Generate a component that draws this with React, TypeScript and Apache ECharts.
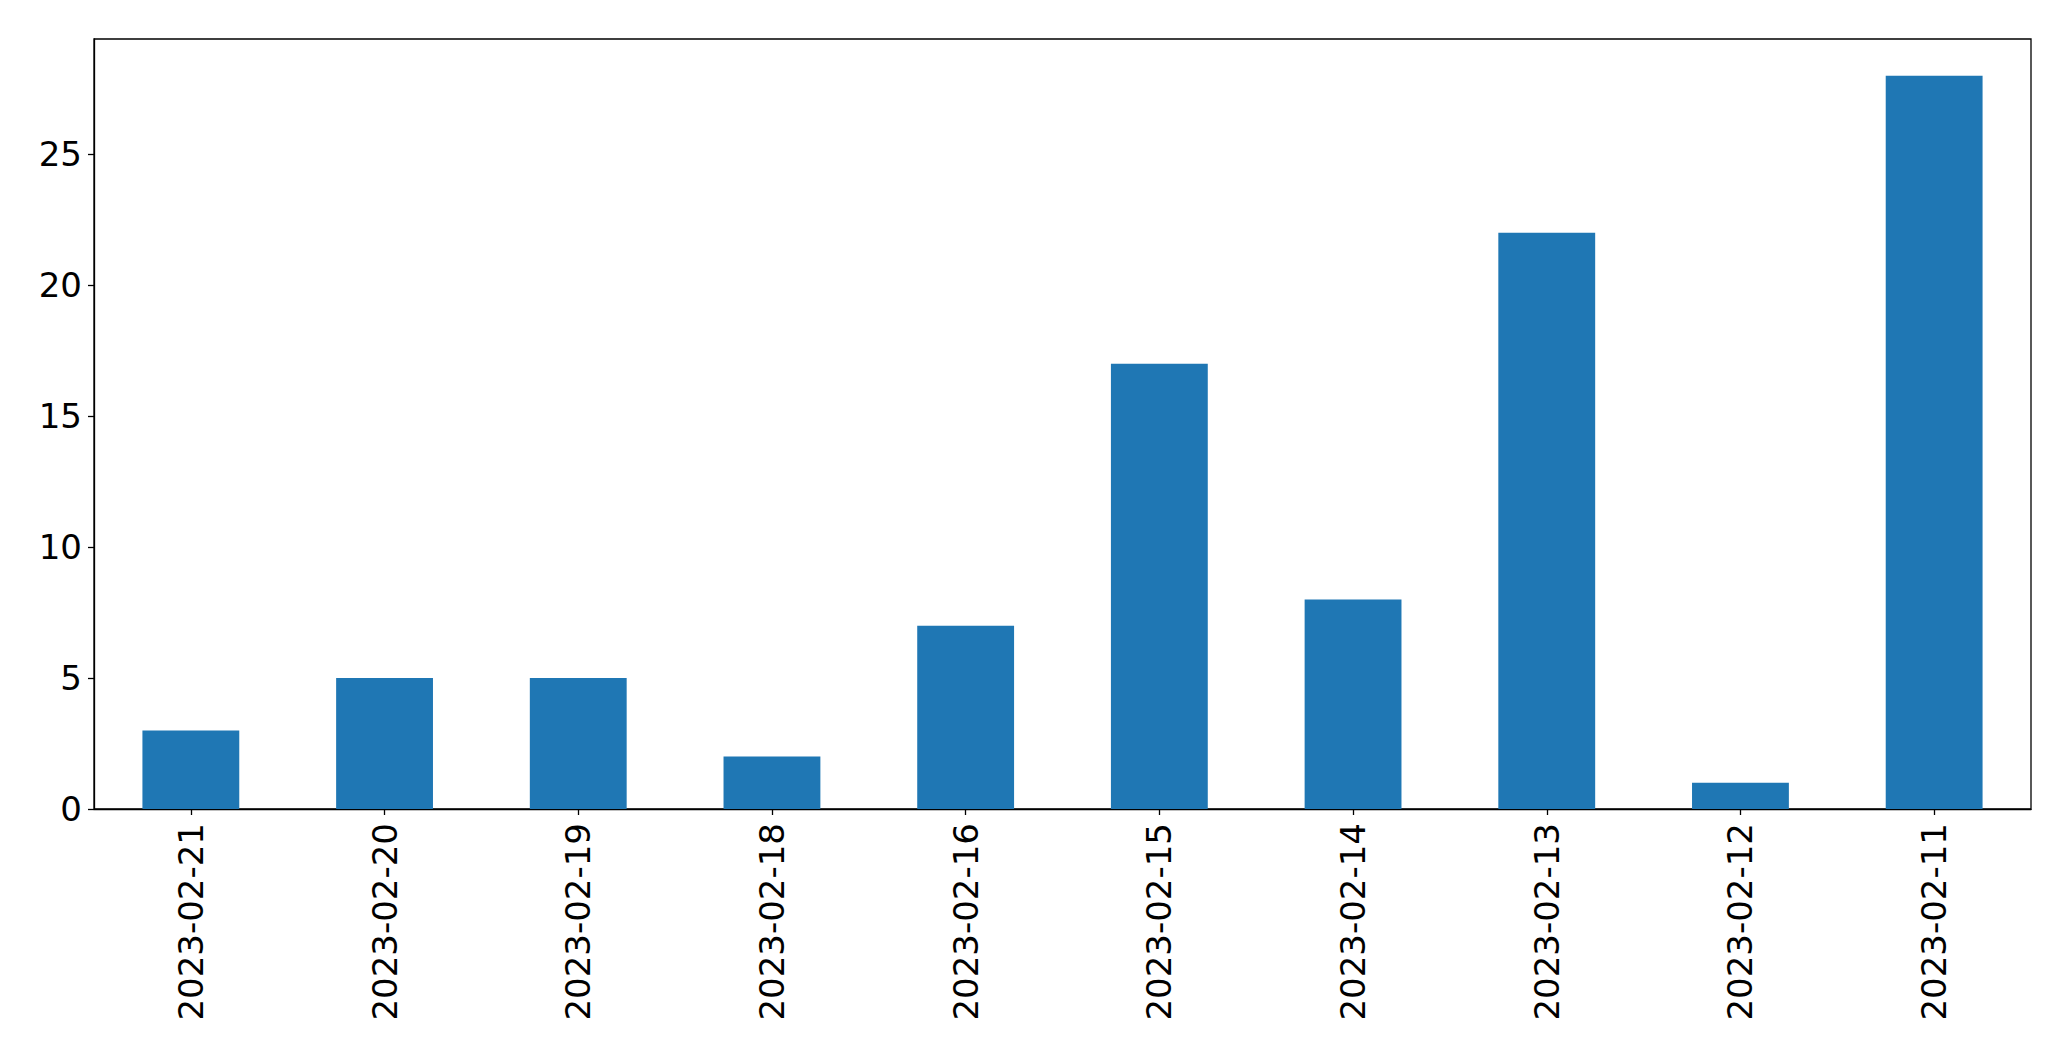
import React, { useEffect, useRef } from "react";
import * as echarts from "echarts";

const categories = [
  "2023-02-21",
  "2023-02-20",
  "2023-02-19",
  "2023-02-18",
  "2023-02-16",
  "2023-02-15",
  "2023-02-14",
  "2023-02-13",
  "2023-02-12",
  "2023-02-11",
];
const values = [3, 5, 5, 2, 7, 17, 8, 22, 1, 28];
const yTicks = [0, 5, 10, 15, 20, 25];
const yMax = 29.4;

export default function App() {
  const ref = useRef<HTMLDivElement>(null);
  useEffect(() => {
    if (!ref.current) return;
    const chart = echarts.init(ref.current, null, { renderer: "svg" });
    const font = "DejaVu Sans";
    chart.setOption({
      animation: false,
      backgroundColor: "#ffffff",
      grid: {
        left: 94,
        top: 39,
        right: 40,
        bottom: 252,
        show: true,
        borderColor: "#000000",
        borderWidth: 1.3,
        backgroundColor: "transparent",
      },
      xAxis: {
        type: "category",
        data: categories,
        axisLine: { show: true, lineStyle: { color: "#000000", width: 1.3 } },
        axisTick: {
          show: true,
          alignWithLabel: true,
          length: 6,
          lineStyle: { color: "#000000", width: 1.3 },
        },
        axisLabel: {
          rotate: 90,
          interval: 0,
          margin: 14,
          color: "#000000",
          fontFamily: font,
          fontSize: 34,
        },
        splitLine: { show: false },
      },
      yAxis: {
        type: "value",
        min: 0,
        max: yMax,
        interval: 5,
        axisLine: { show: true, lineStyle: { color: "#000000", width: 1.3 } },
        axisTick: {
          show: true,
          length: 6,
          customValues: yTicks,
          lineStyle: { color: "#000000", width: 1.3 },
        },
        axisLabel: {
          customValues: yTicks,
          margin: 12,
          color: "#000000",
          fontFamily: font,
          fontSize: 34,
        },
        splitLine: { show: false },
      },
      series: [
        {
          type: "bar",
          data: values,
          barWidth: "50%",
          itemStyle: { color: "#1f77b4" },
        },
      ],
    });
    return () => chart.dispose();
  }, []);
  return (
    <div
      ref={ref}
      style={{ position: "fixed", left: 0, top: 0, width: 2071, height: 1061, background: "#fff" }}
    />
  );
}
